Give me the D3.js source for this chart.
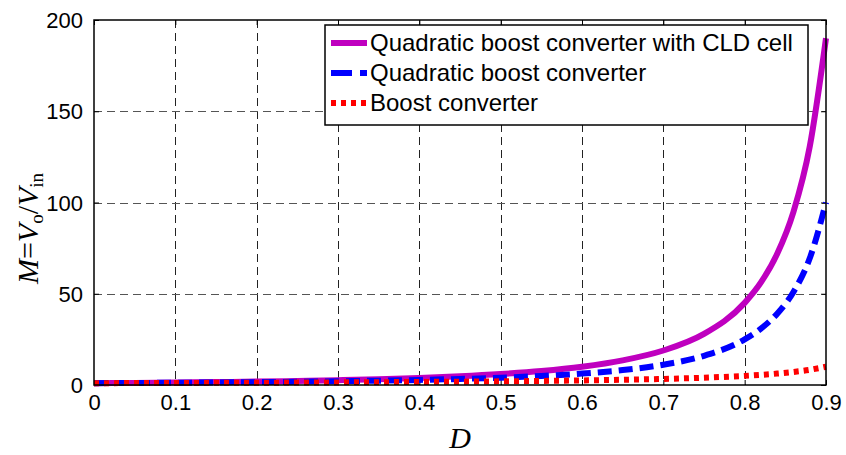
<!DOCTYPE html>
<html>
<head>
<meta charset="utf-8">
<script src="https://cdn.jsdelivr.net/npm/d3@7"></script>
<style>
body { margin: 0; background: #fff; }
svg { display: block; }
</style>
</head>
<body>
<div id="chart"></div>
<script>
var width = 846,
    height = 455,
    margin = {left: 94, right: 20, top: 20, bottom: 70};

// duty cycle D
var dutyCycle = [0, 0.05, 0.1, 0.15, 0.2, 0.25, 0.3, 0.35, 0.4, 0.45, 0.5, 0.55, 0.6, 0.65, 0.7, 0.75, 0.8, 0.82, 0.84, 0.86, 0.88, 0.9];
// gain values
var cldGain = [1, 1.16, 1.36, 1.59, 1.88, 2.22, 2.65, 3.2, 3.89, 4.79, 6, 7.65, 10, 13.5, 18.9, 28, 45, 56.2, 71.9, 94.9, 130.6, 190];
var quadGain = [1, 1.11, 1.23, 1.38, 1.56, 1.78, 2.04, 2.37, 2.78, 3.31, 4, 4.94, 6.25, 8.16, 11.1, 16, 25, 30.9, 39.1, 51, 69.4, 100];
var boostGain = [1, 1.05, 1.11, 1.18, 1.25, 1.33, 1.43, 1.54, 1.67, 1.82, 2, 2.22, 2.5, 2.86, 3.33, 4, 5, 5.56, 6.25, 7.14, 8.33, 10];

var seriesNames = ["Quadratic boost converter with CLD cell", "Quadratic boost converter", "Boost converter"];
var xTicks = [0, 0.1, 0.2, 0.3, 0.4, 0.5, 0.6, 0.7, 0.8, 0.9];
var yTicks = [0, 50, 100, 150, 200];

var series = [
    {name: seriesNames[0], values: cldGain, color: "#bf00bf", dash: null},
    {name: seriesNames[1], values: quadGain, color: "#0000ff", dash: "14,7"},
    {name: seriesNames[2], values: boostGain, color: "#ff0000", dash: "5,5"}
];

var svg = d3.select("#chart")
    .append("svg")
    .attr("width", width)
    .attr("height", height);

var x = d3.scaleLinear().domain([0, 0.9]).range([margin.left, width - margin.right]);
var y = d3.scaleLinear().domain([0, 200]).range([height - margin.bottom, margin.top]);

var x0 = x(0), x1 = x(0.9), y0 = y(0), y1 = y(200);

// grid
var grid = svg.append("g").attr("class", "grid");
grid.selectAll("line.vg")
    .data(xTicks.slice(1, -1))
    .enter().append("line")
    .attr("x1", function (d) { return Math.round(x(d)) + 0.5; })
    .attr("x2", function (d) { return Math.round(x(d)) + 0.5; })
    .attr("y1", y1)
    .attr("y2", y0)
    .attr("stroke", "#222")
    .attr("stroke-width", 1)
    .attr("stroke-dasharray", "8,5");
grid.selectAll("line.hg")
    .data(yTicks.slice(1, -1))
    .enter().append("line")
    .attr("x1", x0)
    .attr("x2", x1)
    .attr("y1", function (d) { return Math.round(y(d)) + 0.5; })
    .attr("y2", function (d) { return Math.round(y(d)) + 0.5; })
    .attr("stroke", "#555")
    .attr("stroke-width", 1)
    .attr("stroke-dasharray", "8,5");

// axes
var axisFont = "'Liberation Sans', Arial, sans-serif";

var bottomAxis = svg.append("g")
    .attr("transform", "translate(0," + y0 + ")")
    .call(d3.axisBottom(x).tickValues(xTicks).tickSize(-5).tickPadding(9)
        .tickFormat(function (d) { return d === 0 ? "0" : d3.format(".1f")(d); }));
var topAxis = svg.append("g")
    .attr("transform", "translate(0," + y1 + ")")
    .call(d3.axisTop(x).tickValues(xTicks).tickSize(-5).tickFormat(""));
var leftAxis = svg.append("g")
    .attr("transform", "translate(" + x0 + ",0)")
    .call(d3.axisLeft(y).tickValues(yTicks).tickSize(-5).tickPadding(11));
var rightAxis = svg.append("g")
    .attr("transform", "translate(" + x1 + ",0)")
    .call(d3.axisRight(y).tickValues(yTicks).tickSize(-5).tickFormat(""));

[bottomAxis, topAxis, leftAxis, rightAxis].forEach(function (a) {
    a.select(".domain").remove();
    a.selectAll(".tick line").attr("stroke", "#000");
    a.selectAll("text")
        .style("font-family", axisFont)
        .style("font-size", "22px")
        .attr("fill", "#000");
});
bottomAxis.selectAll("text").attr("dy", "0.71em");
leftAxis.selectAll("text").attr("dy", "0.35em");

// lines
var line = d3.line()
    .x(function (d, i) { return x(dutyCycle[i]); })
    .y(function (d) { return y(d); })
    .curve(d3.curveMonotoneX);

svg.selectAll("path.series")
    .data(series)
    .enter().append("path")
    .attr("class", "series")
    .attr("d", function (d) { return line(d.values); })
    .attr("fill", "none")
    .attr("stroke", function (d) { return d.color; })
    .attr("stroke-width", 6)
    .attr("stroke-dasharray", function (d) { return d.dash; });

// axes box
svg.append("rect")
    .attr("x", x0)
    .attr("y", y1)
    .attr("width", x1 - x0)
    .attr("height", y0 - y1)
    .attr("fill", "none")
    .attr("stroke", "#000")
    .attr("stroke-width", 1.5);

// legend
var legend = svg.append("g").attr("transform", "translate(325,25)");
legend.append("rect")
    .attr("width", 483)
    .attr("height", 100)
    .attr("fill", "#fff")
    .attr("stroke", "#000")
    .attr("stroke-width", 1.5);

var items = legend.selectAll("g.item")
    .data(series)
    .enter().append("g")
    .attr("class", "item")
    .attr("transform", function (d, i) { return "translate(0," + (18 + i * 30) + ")"; });
items.append("line")
    .attr("x1", 6)
    .attr("x2", 42)
    .attr("y1", 0)
    .attr("y2", 0)
    .attr("stroke", function (d) { return d.color; })
    .attr("stroke-width", 6)
    .attr("stroke-dasharray", function (d, i) { return i === 1 ? "21,8" : d.dash; });
items.append("text")
    .attr("x", 45)
    .attr("y", 0)
    .attr("dy", "0.35em")
    .style("font-family", axisFont)
    .style("font-size", "24px")
    .text(function (d) { return d.name; });

// axis labels
svg.append("text")
    .attr("x", (x0 + x1) / 2)
    .attr("y", 448)
    .attr("text-anchor", "middle")
    .style("font-family", "'Liberation Serif', 'Times New Roman', serif")
    .style("font-style", "italic")
    .style("font-size", "30px")
    .text("D");

var yl = svg.append("text")
    .attr("transform", "translate(38," + ((y0 + y1) / 2 + 26) + ") rotate(-90)")
    .attr("text-anchor", "middle")
    .style("font-family", "'Liberation Serif', 'Times New Roman', serif")
    .style("font-size", "30px");
yl.append("tspan").style("font-style", "italic").text("M");
yl.append("tspan").text("=");
yl.append("tspan").style("font-style", "italic").text("V");
yl.append("tspan").attr("font-size", "19px").attr("dy", 5).text("o");
yl.append("tspan").attr("dy", -5).text("/");
yl.append("tspan").style("font-style", "italic").text("V");
yl.append("tspan").attr("font-size", "19px").attr("dy", 5).text("in");
</script>
</body>
</html>
